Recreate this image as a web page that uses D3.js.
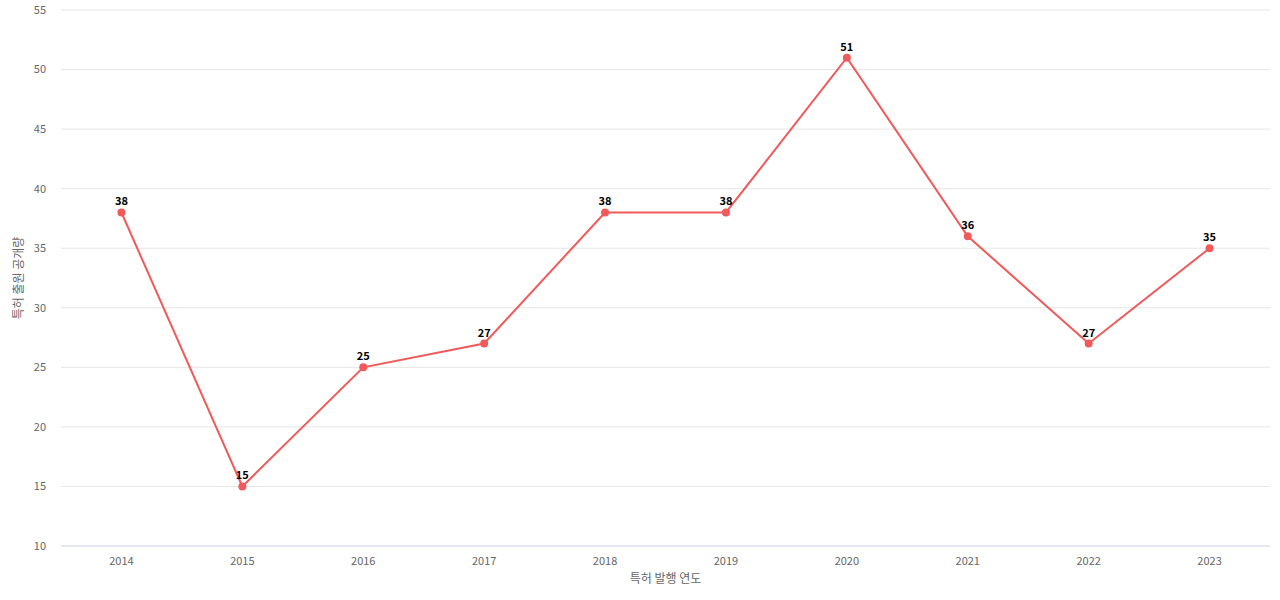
<!DOCTYPE html>
<html><head><meta charset="utf-8">
<script src="https://cdn.jsdelivr.net/npm/d3@7"></script>
<style>body{margin:0;background:#fff;font-family:"Noto Sans CJK KR","Noto Sans",sans-serif;}</style>
</head><body><div id="chart"></div>
<script>
const years = ["2014","2015","2016","2017","2018","2019","2020","2021","2022","2023"];
const counts = [38, 15, 25, 27, 38, 38, 51, 36, 27, 35];
const yTicks = [10, 15, 20, 25, 30, 35, 40, 45, 50, 55];

const W = 1280, H = 600;
const margin = { top: 10, right: 10, bottom: 54, left: 61 };

const svg = d3.select("#chart").append("svg").attr("width", W).attr("height", H);

const x = d3.scaleBand().domain(years).range([margin.left, W - margin.right]);
const y = d3.scaleLinear().domain([10, 55]).range([H - margin.bottom, margin.top]);

// grid
svg.append("g").selectAll("line").data(yTicks).join("line")
    .attr("x1", margin.left).attr("x2", W - margin.right)
    .attr("y1", d => y(d)).attr("y2", d => y(d))
    .attr("stroke", d => d === 10 ? "#c8d2e6" : "#e6e6e6");

svg.append("g").selectAll("text").data(yTicks).join("text")
    .attr("x", 46).attr("y", d => y(d)).attr("dy", "0.35em")
    .attr("text-anchor", "end").attr("font-size", 11).attr("fill", "#666")
    .text(d => d);

svg.append("g").selectAll("text").data(years).join("text")
    .attr("x", d => x(d) + x.bandwidth() / 2).attr("y", H - margin.bottom + 19)
    .attr("text-anchor", "middle").attr("font-size", 11).attr("fill", "#666")
    .text(d => d);

svg.append("text").attr("x", (margin.left + W - margin.right) / 2).attr("y", 583)
    .attr("text-anchor", "middle").attr("font-size", 12).attr("fill", "#666")
    .text("특허 발행 연도");

svg.append("text").attr("transform", "translate(23,278) rotate(-90)")
    .attr("text-anchor", "middle").attr("font-size", 12).attr("fill", "#666")
    .text("특허 출원 공개량");

const cx = (d, i) => x(years[i]) + x.bandwidth() / 2;

svg.append("path").datum(counts)
    .attr("fill", "none").attr("stroke", "#f05a5a").attr("stroke-width", 2)
    .attr("d", d3.line().x((d, i) => cx(d, i)).y(d => y(d)));

svg.append("g").selectAll("circle").data(counts).join("circle")
    .attr("cx", cx).attr("cy", d => y(d)).attr("r", 4).attr("fill", "#f05a5a");

svg.append("g").selectAll("text").data(counts).join("text")
    .attr("x", cx).attr("y", d => y(d) - 7)
    .attr("text-anchor", "middle").attr("font-size", 11).attr("font-weight", "bold")
    .attr("fill", "#000").text(d => d);
</script></body></html>
